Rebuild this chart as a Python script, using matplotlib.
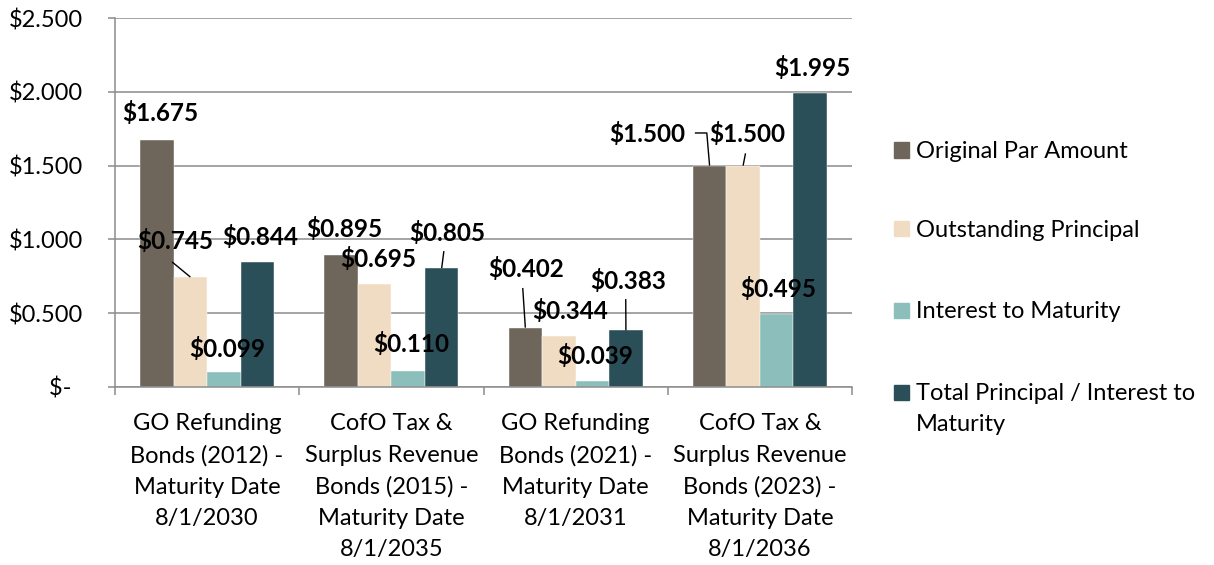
import matplotlib
matplotlib.use('Agg')
import matplotlib.pyplot as plt
import numpy as np
from matplotlib.patches import Rectangle

plt.rcParams['font.family'] = ['Lato', 'DejaVu Sans']

# ---------------- data ----------------
categories = [
    "GO Refunding\nBonds (2012) -\nMaturity Date\n8/1/2030",
    "CofO Tax &\nSurplus Revenue\nBonds (2015) -\nMaturity Date\n8/1/2035",
    "GO Refunding\nBonds (2021) -\nMaturity Date\n8/1/2031",
    "CofO Tax &\nSurplus Revenue\nBonds (2023) -\nMaturity Date\n8/1/2036",
]
series_names = ["Original Par Amount", "Outstanding Principal",
                "Interest to Maturity", "Total Principal / Interest to\nMaturity"]
original_par = [1.675, 0.895, 0.402, 1.500]
outstanding = [0.745, 0.695, 0.344, 1.500]
interest = [0.099, 0.110, 0.039, 0.495]
total = [0.844, 0.805, 0.383, 1.995]
y_ticks = [0, 0.5, 1.0, 1.5, 2.0, 2.5]
y_tick_labels = ["$-  ", "$0.500", "$1.000", "$1.500", "$2.000", "$2.500"]

# ---------------- styles / layout ----------------
colors = ["#6E665A", "#F0DCC3", "#8CBFBB", "#2B4F59"]
grid_color = "#8C8C8C"
bar_w = 0.182
FS = 17
LS = 1.6

# label positions: (group, series) -> (dx from group center, y)
label_pos = {
    (0, 0): (-0.255, 1.858), (0, 1): (-0.174, 0.990), (0, 2): (0.109, 0.258), (0, 3): (0.288, 1.017),
    (1, 0): (-0.257, 1.071), (1, 1): (-0.073, 0.868), (1, 2): (0.106, 0.292), (1, 3): (0.302, 1.044),
    (2, 0): (-0.270, 0.800), (2, 1): (-0.032, 0.516), (2, 2): (0.104, 0.211), (2, 3): (0.283, 0.719),
    (3, 0): (-0.611, 1.715), (3, 1): (-0.066, 1.715), (3, 2): (0.102, 0.665), (3, 3): (0.285, 2.164),
}
# leader lines: (group, series) -> start points (dx, y); end is the bar top
leaders = {
    (0, 1): [(-0.19, 0.847)],
    (1, 3): [(0.285, 0.921)],
    (2, 0): [(-0.287, 0.671)],
    (2, 3): [(0.272, 0.596)],
    (3, 0): [(-0.353, 1.721), (-0.288, 1.721)],
    (3, 1): [(-0.078, 1.583)],
}

W, H = 1214, 565
fig = plt.figure(figsize=(W / 100, H / 100), dpi=100)
ax = fig.add_axes([115 / W, 1 - 387 / H, (852 - 115) / W, (387 - 18) / H])

x = np.arange(len(categories))
all_series = [original_par, outstanding, interest, total]
offsets = [(-1.5 + i) * bar_w for i in range(4)]

for si, (vals, col) in enumerate(zip(all_series, colors)):
    ax.bar(x + offsets[si], vals, width=bar_w, color=col, edgecolor='white',
           linewidth=0.3, zorder=2)

# data labels
for gi in range(len(categories)):
    for si, vals in enumerate(all_series):
        dx, ly = label_pos[(gi, si)]
        ax.text(gi + dx, ly, f"${vals[gi]:.3f}", ha='center', va='center',
                fontsize=17.5, fontweight='bold', color='black', zorder=4)
        if (gi, si) in leaders:
            pts = [(gi + px, py) for px, py in leaders[(gi, si)]]
            pts.append((gi + offsets[si], vals[gi]))
            ax.plot([p[0] for p in pts], [p[1] for p in pts], color='black',
                    lw=1.0, zorder=3, solid_capstyle='butt')

ax.set_xlim(-0.5, 3.5)
ax.set_ylim(0, 2.5)
ax.set_yticks(y_ticks)
ax.set_yticklabels(y_tick_labels)
ax.yaxis.grid(True, color=grid_color, lw=1.1)
ax.set_axisbelow(True)

ax.set_xticks(x)
ax.set_xticklabels(categories, fontsize=FS, linespacing=LS)
ax.set_xticks(np.arange(-0.5, 4.0, 1.0), minor=True)
ax.tick_params(axis='x', which='major', length=0, pad=19)
ax.tick_params(axis='x', which='minor', length=6, width=1.1, color=grid_color, direction='out')
ax.tick_params(axis='y', which='major', length=5, width=1.1, color=grid_color,
               pad=18, labelsize=FS)

for s in ['top', 'right']:
    ax.spines[s].set_visible(False)
for s in ['left', 'bottom']:
    ax.spines[s].set_color(grid_color)
    ax.spines[s].set_linewidth(1.1)

# legend (drawn manually so the swatch aligns with the first text line)
leg_y = [150, 229, 310, 392]
for name, col, yc in zip(series_names, colors, leg_y):
    fig.add_artist(Rectangle(((894) / W, 1 - (yc + 7.5) / H), 15 / W, 15 / H,
                             transform=fig.transFigure, color=col))
    fig.text(916 / W, 1 - (yc - 9) / H, name, ha='left', va='top', fontsize=FS,
             linespacing=LS)

fig.savefig('out.png', dpi=100)
